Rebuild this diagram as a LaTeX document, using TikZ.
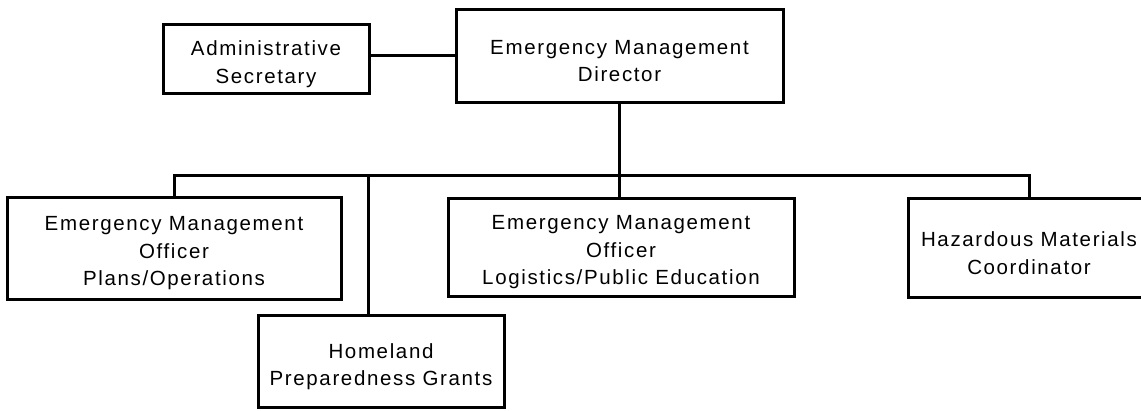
\documentclass[tikz,border=0pt]{standalone}
\usepackage{fontspec}
\setmainfont{Liberation Sans}[LetterSpace=8]
\begin{document}
\begin{tikzpicture}[x=1pt,y=-1pt,
  box/.style={draw,line width=3pt,rectangle,inner sep=0pt},
  tx/.style={align=center,inner sep=0pt,yshift=-5.5pt,
    font=\fontsize{20.5}{27.5}\selectfont},
  conn/.style={line width=3pt}]
\useasboundingbox (0,0) rectangle (1141,410);
\clip (0,0) rectangle (1141,410);
\node[box,minimum width=206pt,minimum height=69pt] (admin) at (266,58.5) {};
\node[tx] (admin-t) at (admin) {Administrative\\Secretary};
\node[box,minimum width=327pt,minimum height=93pt] (dir) at (619.5,55.5) {};
\node[tx] (dir-t) at (dir) {Emergency Management\\Director};
\node[box,minimum width=334pt,minimum height=102pt] (plans) at (174,248) {};
\node[tx] (plans-t) at (plans) {Emergency Management\\Officer\\Plans/Operations};
\node[box,minimum width=346pt,minimum height=98pt] (logi) at (621,247) {};
\node[tx] (logi-t) at (logi) {Emergency Management\\Officer\\Logistics/Public Education};
\node[box,minimum width=242pt,minimum height=99pt] (haz) at (1029,247.5) {};
\node[tx] (haz-t) at (haz) {Hazardous Materials\\Coordinator};
\node[box,minimum width=246pt,minimum height=92pt] (home) at (381,361) {};
\node[tx] (home-t) at (home) {Homeland\\Preparedness Grants};
\coordinate (bar) at (0,175);
\coordinate (hv) at (368,175);
\draw[conn] (dir.west -| admin.east) -- (dir.west);
\draw[conn] (dir.south) -- (dir.south |- logi.north);
\draw[conn] (plans.north) |- (bar -| haz.north) -- (haz.north);
\draw[conn] (hv) -- (hv |- home.north);
\end{tikzpicture}
\end{document}
